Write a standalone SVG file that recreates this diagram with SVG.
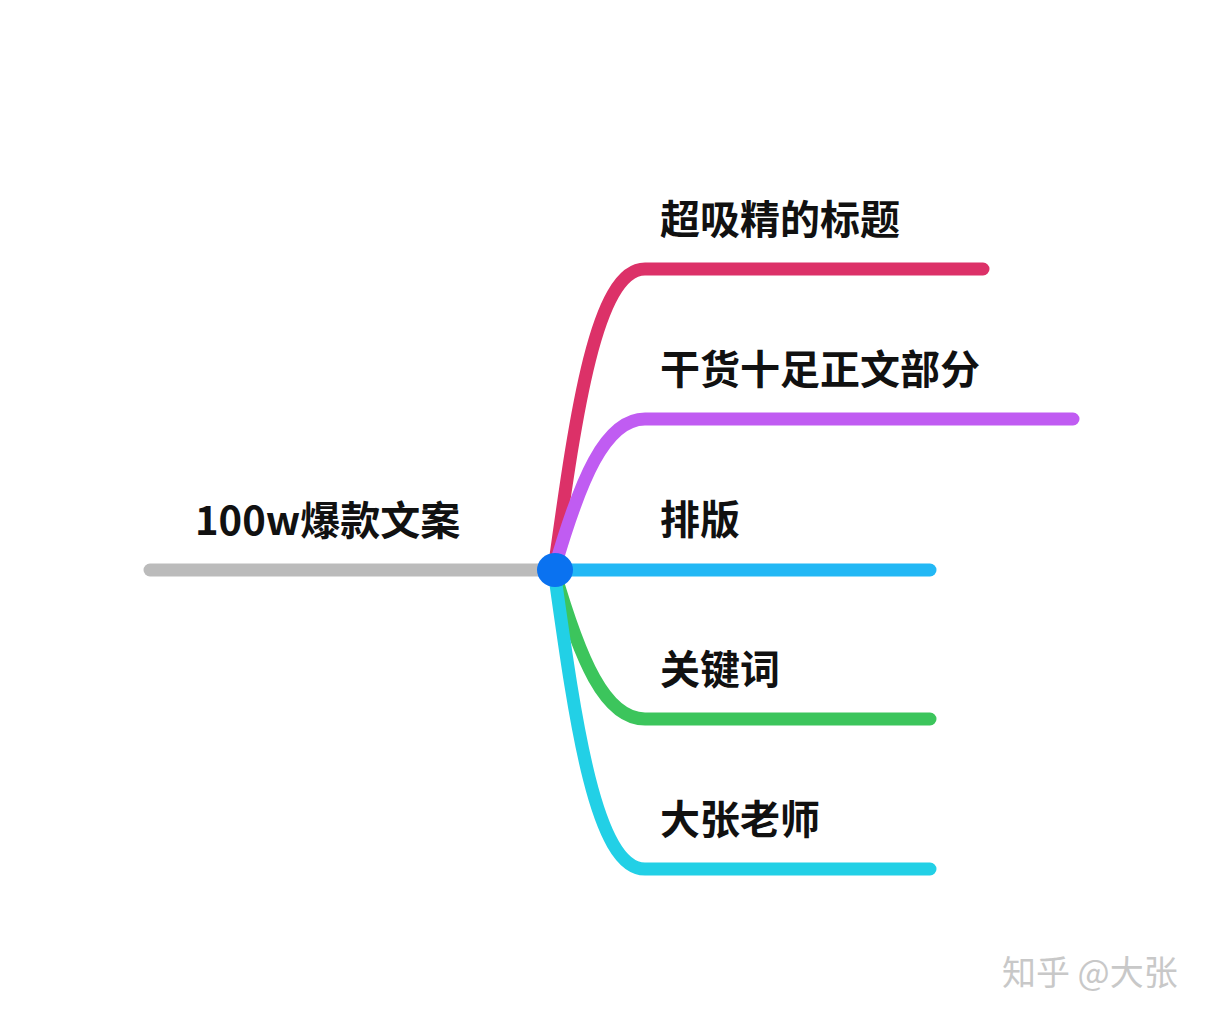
<svg xmlns="http://www.w3.org/2000/svg" width="1223" height="1020" viewBox="0 0 1223 1020">
<style>
.c{fill:none;stroke-width:13;stroke-linecap:round}
.t{font-family:"Noto Sans CJK SC","Liberation Sans",sans-serif;font-weight:bold;font-size:40px;fill:#111}
</style>
<rect width="1223" height="1020" fill="#fff"/>
<g id="connectors">
<path class="c" stroke="#bbbbbb" d="M150,570 H554"/>
<path class="c" stroke="#dc3168" d="M554,570 C575,420 595,269 645,269 H983"/>
<path class="c" stroke="#c05cf2" d="M554,570 C580,480 605,419 645,419 H1073"/>
<path class="c" stroke="#23b8f5" d="M554,570 H930"/>
<path class="c" stroke="#3cc55c" d="M554,570 C580,660 605,719 645,719 H930"/>
<path class="c" stroke="#22d0e6" d="M554,570 C575,720 595,869 645,869 H930"/>
</g>
<g id="root"><text class="t" x="195" y="535">100w爆款文案</text></g>
<g id="hub"><ellipse cx="555" cy="570" rx="18" ry="17" fill="#0a72f0"/></g>
<g id="n1"><text class="t" x="660" y="234">超吸精的标题</text></g>
<g id="n2"><text class="t" x="660" y="384">干货十足正文部分</text></g>
<g id="n3"><text class="t" x="660" y="534">排版</text></g>
<g id="n4"><text class="t" x="660" y="684">关键词</text></g>
<g id="n5"><text class="t" x="660" y="834">大张老师</text></g>
<text x="1002" y="985" font-family="Noto Sans CJK SC,sans-serif" font-size="34" fill="#c8c8c8">知乎 @大张</text>
</svg>
